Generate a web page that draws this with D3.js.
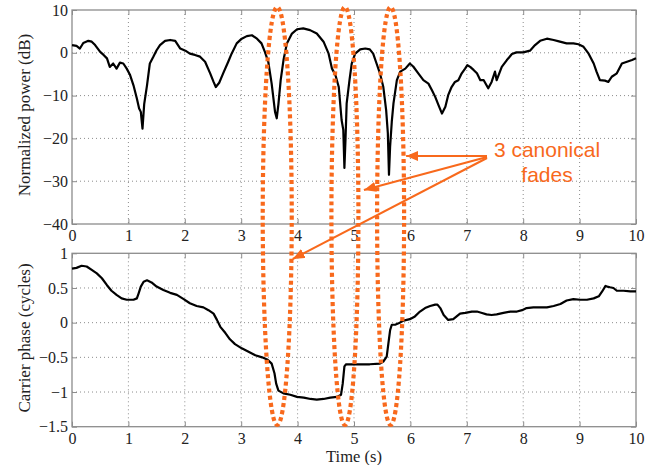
<!DOCTYPE html>
<meta charset="utf-8">
<style>
body { margin: 0; background: #fff; }
.frame { fill: none; stroke: #8c8c8c; stroke-width: 1.3px; }
.grid line { stroke: #8c8c8c; stroke-width: 1px; stroke-dasharray: 1,3; }
.tick text { font: 16px "Liberation Serif", serif; fill: #222; }
.ylabel { font: 17px "Liberation Serif", serif; fill: #222; }
.xlabel { font: 16.5px "Liberation Serif", serif; fill: #222; }
.trace { fill: none; stroke: #000; stroke-width: 2.2px; stroke-linejoin: round; }
.fade { fill: none; stroke: #f8691c; stroke-width: 4.2px; stroke-dasharray: 4,3.2; }
.note { font: 21px "Liberation Sans", Arial, sans-serif; fill: #f8691c; }
.arrow { stroke: #f8691c; stroke-width: 2px; }
</style>
<svg width="657" height="465"></svg>
<script src="https://cdn.jsdelivr.net/npm/d3@7"></script>
<script>

// received power, normalized (dB)
var powerTime = [0, 0.08, 0.14, 0.20, 0.29, 0.35, 0.41, 0.50, 0.56, 0.62, 0.67, 0.73, 0.79, 0.85, 0.91, 0.97,
  1.03, 1.09, 1.15, 1.19, 1.22, 1.25, 1.28, 1.33, 1.38, 1.44, 1.50, 1.56, 1.65, 1.74, 1.83, 1.92,
  2.01, 2.09, 2.18, 2.27, 2.36, 2.45, 2.51, 2.55, 2.61, 2.68, 2.77, 2.83, 2.92, 3.01, 3.10, 3.19,
  3.28, 3.36, 3.42, 3.48, 3.54, 3.60, 3.63, 3.66, 3.70, 3.75, 3.81, 3.90, 3.99, 4.10, 4.22, 4.34,
  4.46, 4.55, 4.61, 4.67, 4.73, 4.78, 4.81, 4.83, 4.85, 4.87, 4.92, 4.96, 5.02, 5.11, 5.20, 5.28,
  5.34, 5.40, 5.46, 5.52, 5.57, 5.60, 5.62, 5.64, 5.67, 5.70, 5.76, 5.82, 5.91, 5.99, 6.05, 6.14,
  6.23, 6.32, 6.38, 6.44, 6.50, 6.56, 6.62, 6.67, 6.73, 6.79, 6.85, 6.91, 6.97, 7.01, 7.06, 7.12,
  7.18, 7.24, 7.30, 7.38, 7.44, 7.50, 7.53, 7.62, 7.71, 7.80, 7.88, 8.00, 8.12, 8.21, 8.30, 8.42,
  8.54, 8.65, 8.77, 8.89, 8.98, 9.07, 9.16, 9.25, 9.30, 9.36, 9.45, 9.51, 9.57, 9.66, 9.75, 9.84,
  9.93, 10.0];
var powerDb = [1.8, 1.6, 1.0, 2.3, 2.8, 2.6, 1.8, 0.2, -0.5, -1.3, -3.3, -2.5, -3.7, -2.3, -2.5, -3.7,
  -5.2, -7.6, -10.7, -13.0, -13.8, -17.7, -12.0, -7.6, -2.5, -1.0, 0.6, 1.8, 2.8, 3.0, 2.8, 1.0,
  0.5, -0.2, -0.5, -0.9, -2.1, -4.8, -6.8, -8.0, -7.0, -4.8, -2.1, -0.2, 2.2, 3.3, 3.9, 4.1,
  3.3, 2.2, 0.2, -2.1, -7.2, -13.8, -15.3, -12.0, -6.4, -1.7, 2.2, 4.5, 5.5, 5.7, 5.3, 4.5,
  2.6, -0.2, -3.7, -5.2, -8.0, -15.7, -18.0, -26.9, -20.0, -11.8, -6.4, -2.5, -0.2, 0.8, 1.0, 0.8,
  -0.2, -2.5, -4.8, -8.0, -13.4, -18.8, -28.5, -22.0, -16.1, -11.8, -6.4, -4.4, -3.7, -2.5, -3.2, -4.8,
  -6.4, -7.2, -8.7, -10.3, -12.3, -14.2, -12.6, -9.9, -8.0, -6.8, -6.4, -4.8, -3.7, -2.9, -3.3, -4.0,
  -4.8, -6.4, -6.4, -8.3, -6.8, -4.4, -6.4, -3.3, -1.7, -0.3, 0.1, 0.1, 0.5, 1.8, 2.8, 3.3,
  3.0, 2.6, 2.2, 2.2, 2.0, 1.4, -0.2, -2.5, -4.4, -6.4, -6.5, -6.8, -5.6, -4.8, -2.5, -2.1,
  -1.7, -1.3];

// carrier phase (cycles)
var phaseTime = [0, 0.08, 0.17, 0.26, 0.35, 0.44, 0.53, 0.62, 0.70, 0.79, 0.88, 0.97, 1.09, 1.15, 1.18,
  1.22, 1.27, 1.33, 1.41, 1.50, 1.62, 1.74, 1.86, 1.98, 2.09, 2.21, 2.33, 2.42, 2.51, 2.57, 2.63,
  2.72, 2.80, 2.89, 3.01, 3.13, 3.25, 3.37, 3.46, 3.54, 3.59, 3.62, 3.66, 3.75, 3.87, 3.99, 4.11,
  4.23, 4.34, 4.46, 4.58, 4.70, 4.77, 4.80, 4.83, 4.86, 4.99, 5.11, 5.28, 5.46, 5.52, 5.58, 5.61,
  5.64, 5.67, 5.73, 5.79, 5.88, 5.99, 6.08, 6.17, 6.26, 6.35, 6.44, 6.48, 6.53, 6.59, 6.67, 6.76,
  6.82, 6.88, 6.97, 7.09, 7.18, 7.27, 7.35, 7.44, 7.53, 7.65, 7.77, 7.89, 7.98, 8.06, 8.18, 8.30,
  8.42, 8.54, 8.66, 8.77, 8.89, 9.01, 9.13, 9.25, 9.34, 9.40, 9.46, 9.49, 9.54, 9.60, 9.66, 9.78,
  9.90, 10.0];
var phaseCycles = [0.78, 0.79, 0.82, 0.81, 0.76, 0.71, 0.64, 0.54, 0.46, 0.40, 0.35, 0.33, 0.33, 0.35, 0.42,
  0.52, 0.59, 0.61, 0.58, 0.52, 0.47, 0.43, 0.40, 0.34, 0.28, 0.24, 0.22, 0.18, 0.13, 0.04, -0.06,
  -0.15, -0.24, -0.31, -0.37, -0.42, -0.47, -0.50, -0.53, -0.59, -0.73, -0.88, -0.98, -1.02, -1.04, -1.07, -1.08,
  -1.10, -1.11, -1.10, -1.08, -1.07, -1.04, -0.88, -0.63, -0.60, -0.60, -0.60, -0.60, -0.59, -0.56, -0.49, -0.30,
  -0.11, -0.03, -0.03, -0.01, 0.03, 0.05, 0.09, 0.16, 0.21, 0.24, 0.26, 0.26, 0.21, 0.11, 0.04, 0.05,
  0.09, 0.13, 0.14, 0.16, 0.16, 0.14, 0.12, 0.11, 0.12, 0.14, 0.16, 0.16, 0.18, 0.21, 0.22, 0.22,
  0.22, 0.24, 0.27, 0.32, 0.34, 0.33, 0.33, 0.35, 0.38, 0.45, 0.53, 0.52, 0.51, 0.50, 0.46, 0.46,
  0.45, 0.45];

var timeTicks = [0, 1, 2, 3, 4, 5, 6, 7, 8, 9, 10];
var powerTicks = [10, 0, -10, -20, -30, -40];
var phaseTicks = [1, 0.5, 0, -0.5, -1, -1.5];

// the three highlighted fades: centre time and label
var fadeTimes = [3.63, 4.83, 5.64];
var noteLines = ["3 canonical", "fades"];

var svg = d3.select("svg");
var left = 72, right = 636;

var x = d3.scaleLinear().domain([0, 10]).range([left, right]);
var yPow = d3.scaleLinear().domain([-40, 10]).range([224, 10]);
var yPh = d3.scaleLinear().domain([-1.5, 1]).range([426.7, 253.3]);

function grey(a) {
  a.select(".domain").remove();
  a.selectAll("line").attr("stroke", "#8c8c8c");
}

function panel(y, ticks, xs, ys, label, fmt) {
  var g = svg.append("g");
  var y0 = y.range()[0], y1 = y.range()[1];

  var grid = g.append("g").attr("class", "grid");
  grid.selectAll(".gx").data(timeTicks.slice(1, -1)).enter().append("line")
      .attr("x1", x).attr("x2", x).attr("y1", y1).attr("y2", y0);
  grid.selectAll(".gy").data(ticks.slice(1, -1)).enter().append("line")
      .attr("x1", left).attr("x2", right).attr("y1", y).attr("y2", y);

  g.append("g").attr("transform", "translate(0," + y0 + ")")
      .call(d3.axisBottom(x).tickValues(timeTicks).tickSize(-5).tickPadding(6)).call(grey);
  g.append("g").attr("transform", "translate(0," + y1 + ")")
      .call(d3.axisTop(x).tickValues(timeTicks).tickSize(-5).tickFormat("")).call(grey);
  g.append("g").attr("transform", "translate(" + left + ",0)")
      .call(d3.axisLeft(y).tickValues(ticks).tickSize(-5).tickPadding(4).tickFormat(fmt)).call(grey);
  g.append("g").attr("transform", "translate(" + right + ",0)")
      .call(d3.axisRight(y).tickValues(ticks).tickSize(-5).tickFormat("")).call(grey);
  g.selectAll(".tick text").attr("font-size", null).attr("font-family", null);

  g.append("rect").attr("class", "frame")
      .attr("x", left).attr("y", y1).attr("width", right - left).attr("height", y0 - y1);

  var line = d3.line()
      .x(function(d, i) { return x(xs[i]); })
      .y(function(d) { return y(d); });
  g.append("path").attr("class", "trace").attr("d", line(ys));

  g.append("text").attr("class", "ylabel")
      .attr("transform", "translate(29.5," + ((y0 + y1) / 2 - 2) + ") rotate(-90)")
      .attr("text-anchor", "middle")
      .text(label);
}

panel(yPow, powerTicks, powerTime, powerDb, "Normalized power (dB)", d3.format("d"));
panel(yPh, phaseTicks, phaseTime, phaseCycles, "Carrier phase (cycles)", function(d) { return d3.format("")(d); });

svg.append("text").attr("class", "xlabel")
    .attr("x", (left + right) / 2).attr("y", 462).attr("text-anchor", "middle")
    .text("Time (s)");

// fade ellipses
var fadeRx = [14.5, 13.5, 13.5];
svg.selectAll(".fade").data(fadeTimes).enter().append("ellipse")
    .attr("class", "fade")
    .attr("cx", function(d) { return x(d) + 0.5; })
    .attr("cy", 216)
    .attr("rx", function(d, i) { return fadeRx[i]; })
    .attr("ry", 209);

// annotation
svg.append("defs").append("marker")
    .attr("id", "head").attr("viewBox", "0 0 12 10")
    .attr("refX", 12).attr("refY", 5)
    .attr("markerWidth", 12).attr("markerHeight", 10)
    .attr("markerUnits", "userSpaceOnUse")
    .attr("orient", "auto")
  .append("path").attr("d", "M0,0L12,5L0,10Z").attr("fill", "#f8691c");

var tips = [[x(fadeTimes[2]) + 16, 156], [x(fadeTimes[1]) + 19.5, 190], [x(fadeTimes[0]) + 16, 259]];
svg.selectAll(".arrow").data(tips).enter().append("line")
    .attr("class", "arrow")
    .attr("x1", 487).attr("y1", function(d, i) { return 156 + i; })
    .attr("x2", function(d) { return d[0]; }).attr("y2", function(d) { return d[1]; })
    .attr("marker-end", "url(#head)");

svg.selectAll(".note").data(noteLines).enter().append("text")
    .attr("class", "note")
    .attr("x", 547).attr("y", function(d, i) { return 157 + i * 25; })
    .attr("text-anchor", "middle")
    .text(function(d) { return d; });

</script>
